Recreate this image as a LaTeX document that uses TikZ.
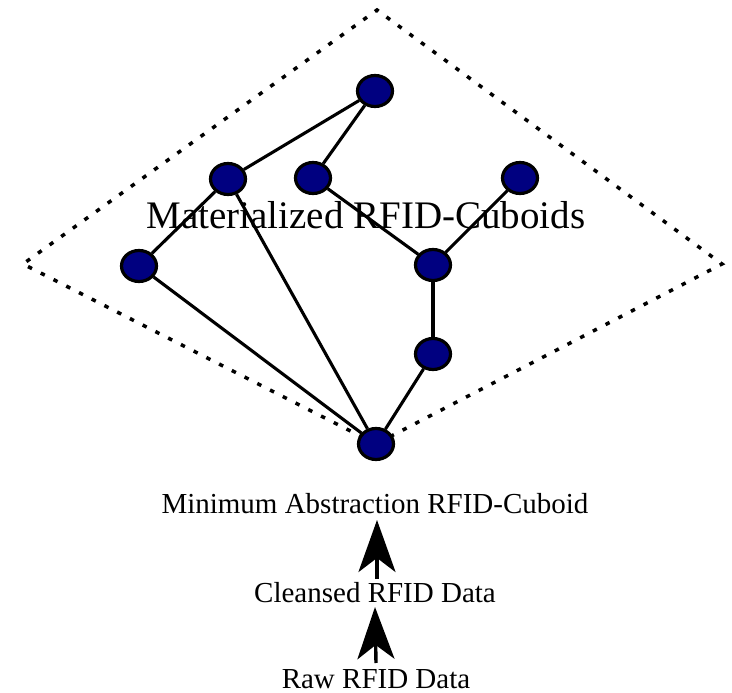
\documentclass[tikz,border=0pt]{standalone}
\usepackage{fontspec}
\setmainfont{Liberation Serif}
\usetikzlibrary{arrows.meta,shapes.geometric}
\definecolor{cubenavy}{RGB}{0,0,128}
\begin{document}
\begin{tikzpicture}[x=1pt,y=-1pt,
  cuboid/.style={ellipse, draw=black, line width=3.2pt, fill=cubenavy,
    minimum width=35pt, minimum height=31pt, inner sep=0pt},
  link/.style={line width=3.1pt},
  dots/.style={line width=3.5pt, dash pattern=on 4.5pt off 9.8pt},
  bigarrow/.style={line width=3.4pt, -{Stealth[length=52pt,width=37pt,inset=14pt]}},
  smalltext/.style={anchor=base, inner sep=0pt, font=\fontsize{29}{34}\selectfont},
  bigtext/.style={anchor=base, inner sep=0pt, font=\fontsize{39}{45}\selectfont}]
\useasboundingbox (0,0) rectangle (732,693);
% diamond region
\coordinate (L) at (23,264);
\coordinate (T) at (377,10);
\coordinate (R) at (722,264);
\coordinate (B) at (376,444);
\draw[dots] (B) -- (L) -- (T) -- (R) -- (B);
% lattice nodes
\node[cuboid] (n1) at (375,91) {};
\node[cuboid] (n2) at (228,179) {};
\node[cuboid] (n3) at (313,178) {};
\node[cuboid] (n4) at (520,178) {};
\node[cuboid] (n5) at (139,266) {};
\node[cuboid] (n6) at (433,265) {};
\node[cuboid] (n7) at (433,354) {};
\node[cuboid] (n8) at (376,444) {};
% links
\draw[link] (n1) -- (n2);
\draw[link] (n1) -- (n3);
\draw[link] (n2) -- (n5);
\draw[link] (n2) -- (n8);
\draw[link] (n5) -- (n8);
\draw[link] (n3) -- (n6);
\draw[link] (n4) -- (n6);
\draw[link] (n6) -- (n7);
\draw[link] (n7) -- (n8);
% labels
\node[bigtext] (mat) at (366,228) {Materialized RFID-Cuboids};
\node[smalltext] (mini) at (375,513) {Minimum Abstraction RFID-Cuboid};
\node[smalltext] (clean) at (375,602) {Cleansed RFID Data};
\node[smalltext] (raw) at (376,688) {Raw RFID Data};
% arrows
\draw[bigarrow] ([xshift=2pt]clean.north |- 0,579) -- ([xshift=2pt]mini.south |- 0,520);
\draw[bigarrow] ([xshift=0pt]raw.north |- 0,663) -- ([xshift=0pt]clean.south |- 0,607);
\end{tikzpicture}
\end{document}
